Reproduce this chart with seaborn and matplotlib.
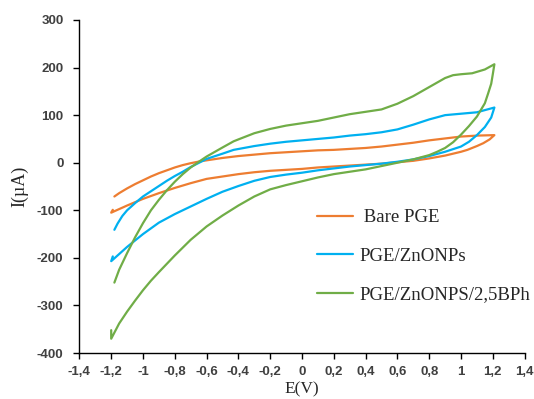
import numpy as np
import pandas as pd
import matplotlib
matplotlib.use("Agg")
import matplotlib.pyplot as plt
import seaborn as sns

# cyclic voltammograms: forward (upper) branch, then the return (lower) branch
bare_E = [-1.18, -1.15, -1.1, -1.05, -1.0, -0.95, -0.9, -0.85, -0.8, -0.75, -0.7, -0.64, -0.6,
          -0.5, -0.4, -0.3, -0.2, -0.1, 0.0, 0.1, 0.2, 0.3, 0.4, 0.5, 0.6, 0.7, 0.8, 0.9, 1.0,
          1.1, 1.21,
          1.18, 1.14, 1.1, 1.04, 1.0, 0.9, 0.8, 0.7, 0.6, 0.5, 0.4, 0.3, 0.2, 0.1, 0.0, -0.1,
          -0.2, -0.3, -0.4, -0.5, -0.6, -0.7, -0.8, -0.9, -1.0, -1.1, -1.2, -1.19]
bare_I = [-71, -64, -54, -45, -37, -29, -22, -16, -10, -5, -1, 3, 5,
          10, 14, 17, 20, 22, 24, 26, 27, 29, 31, 34, 38, 42, 47, 51, 55,
          57, 58,
          49, 41, 35, 27, 23, 15, 9, 4, 1, -2, -4, -6, -8, -10, -13, -15,
          -17, -20, -24, -29, -34, -43, -53, -64, -76, -90, -105, -99]

zno_E = [-1.18, -1.16, -1.13, -1.1, -1.05, -1.0, -0.95, -0.9, -0.85, -0.8, -0.75, -0.7, -0.6,
         -0.5, -0.43, -0.3, -0.2, -0.1, 0.0, 0.1, 0.2, 0.3, 0.4, 0.5, 0.6, 0.7, 0.8, 0.9, 1.0,
         1.1, 1.21,
         1.19, 1.15, 1.1, 1.05, 1.0, 0.9, 0.8, 0.7, 0.6, 0.5, 0.4, 0.3, 0.2, 0.1, 0.0, -0.1,
         -0.2, -0.3, -0.4, -0.5, -0.6, -0.7, -0.8, -0.9, -1.0, -1.1, -1.2, -1.19]
zno_I = [-141, -128, -112, -100, -85, -71, -60, -49, -38, -28, -19, -9, 8,
         19, 27, 35, 40, 44, 47, 50, 53, 57, 60, 64, 70, 80, 91, 100, 103,
         106, 116,
         95, 75, 58, 44, 34, 23, 14, 7, 2, -2, -5, -8, -12, -16, -21, -25,
         -30, -38, -49, -61, -76, -92, -108, -126, -150, -177, -207, -197]

bph_E = [-1.18, -1.15, -1.1, -1.05, -1.0, -0.95, -0.9, -0.85, -0.8, -0.75, -0.7, -0.64, -0.6,
         -0.5, -0.43, -0.4, -0.3, -0.2, -0.1, 0.0, 0.1, 0.2, 0.3, 0.4, 0.5, 0.6, 0.7, 0.8,
         0.9, 0.95, 1.0, 1.07, 1.15, 1.21,
         1.2, 1.19, 1.17, 1.15, 1.1, 1.05, 1.0, 0.95, 0.9, 0.85, 0.8, 0.7, 0.6, 0.5, 0.4, 0.3,
         0.2, 0.1, 0.0, -0.1, -0.2, -0.3, -0.4, -0.5, -0.6, -0.7, -0.8, -0.9, -0.95, -1.0,
         -1.05, -1.1, -1.15, -1.2, -1.2]
bph_I = [-252, -225, -190, -157, -127, -100, -78, -58, -40, -24, -10, 4, 13,
         32, 45, 49, 62, 71, 78, 83, 88, 95, 102, 107, 112, 124, 140, 159,
         178, 184, 186, 188, 196, 207,
         186, 166, 145, 125, 97, 77, 59, 43, 31, 23, 16, 7, 0, -7, -14, -19,
         -24, -31, -39, -47, -56, -71, -90, -111, -134, -162, -195, -230, -248, -268,
         -290, -313, -338, -370, -352]

labels = [" Bare PGE", "PGE/ZnONPs", "PGE/ZnONPS/2,5BPh"]
colors = ["#ED7D31", "#00B0F0", "#70AD47"]

x_ticks = [-1.4, -1.2, -1.0, -0.8, -0.6, -0.4, -0.2, 0.0, 0.2, 0.4, 0.6, 0.8, 1.0, 1.2, 1.4]
y_ticks = [-400, -300, -200, -100, 0, 100, 200, 300]

frames = []
for name, e, i in zip(labels, [bare_E, zno_E, bph_E], [bare_I, zno_I, bph_I]):
    frames.append(pd.DataFrame({"E": e, "I": i, "series": name}))
df = pd.concat(frames, ignore_index=True)

sns.set_theme(style="ticks")
plt.rcParams["font.family"] = ["Liberation Sans", "DejaVu Sans"]

fig = plt.figure(figsize=(5.34, 3.99), dpi=100)
ax = fig.add_axes([79.4 / 534, 46 / 399, 445.2 / 534, 333 / 399])

sns.lineplot(data=df, x="E", y="I", hue="series", palette=colors, sort=False,
             estimator=None, linewidth=1.6, ax=ax)

ax.set_xlim(-1.4, 1.4)
ax.set_ylim(-400, 300)
ax.set_xticks(x_ticks)
ax.set_yticks(y_ticks)
ax.set_xticklabels([f"{v:g}".replace(".", ",") for v in x_ticks])
ax.set_yticklabels([str(v) for v in y_ticks])
plt.setp(ax.get_xticklabels() + ax.get_yticklabels(), fontweight="bold", fontsize=9.5, color="#404040")
ax.tick_params(axis="both", direction="out", length=4.5, width=1, color="black")
ax.tick_params(axis="y", pad=7)
ax.tick_params(axis="x", pad=5)

for s in ["top", "right"]:
    ax.spines[s].set_visible(False)
for s in ["left", "bottom"]:
    ax.spines[s].set_color("black")
    ax.spines[s].set_linewidth(1)

ax.set_xlabel("E(V)", fontfamily="Liberation Serif", fontsize=12.5, labelpad=2)
ax.set_ylabel("I(µA)", fontfamily="Liberation Serif", fontsize=13, labelpad=6)

leg = ax.legend(frameon=False, loc="upper left", bbox_to_anchor=(317 / 534, 1 - 209 / 399),
                bbox_transform=fig.transFigure, borderpad=0, borderaxespad=0,
                handlelength=1.9, handletextpad=0.35, labelspacing=1.15,
                prop={"family": "Liberation Serif", "size": 13.5})
for line in leg.get_lines():
    line.set_linewidth(1.6)

fig.savefig("out.png", dpi=100)
